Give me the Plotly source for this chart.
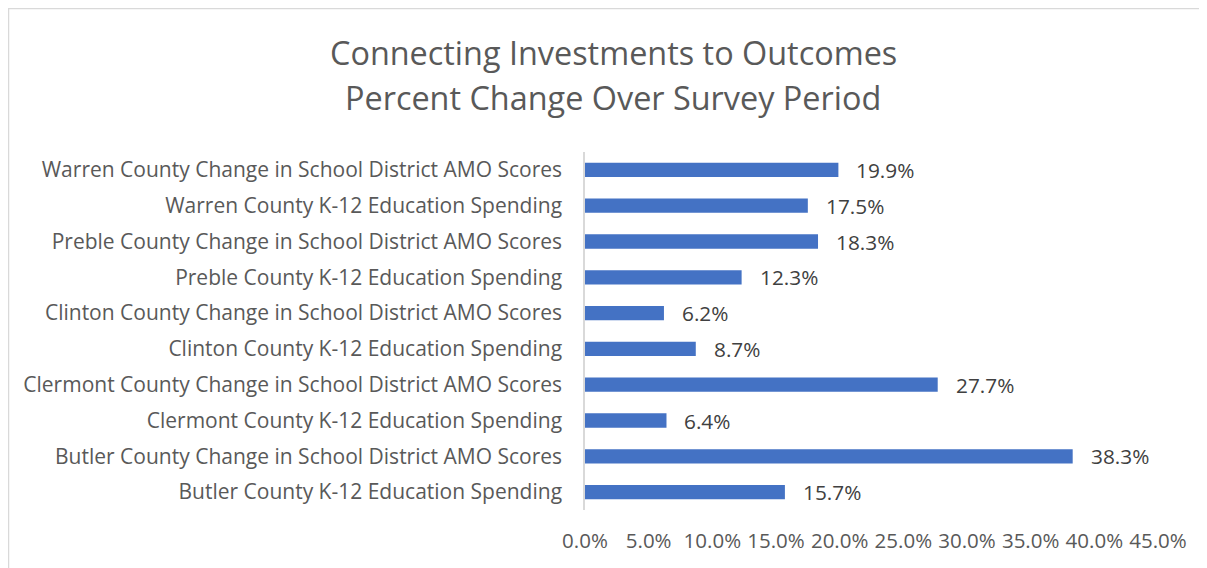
import plotly.graph_objects as go

categories = [
    "Butler County K-12 Education Spending",
    "Butler County Change in School District AMO Scores",
    "Clermont County K-12 Education Spending",
    "Clermont County Change in School District AMO Scores",
    "Clinton County K-12 Education Spending",
    "Clinton County Change in School District AMO Scores",
    "Preble County K-12 Education Spending",
    "Preble County Change in School District AMO Scores",
    "Warren County K-12 Education Spending",
    "Warren County Change in School District AMO Scores",
]
values = [15.7, 38.3, 6.4, 27.7, 8.7, 6.2, 12.3, 18.3, 17.5, 19.9]
tick_vals = [0, 5, 10, 15, 20, 25, 30, 35, 40, 45]
tick_text = [f"{v:.1f}%" for v in tick_vals]
title_lines = ["Connecting Investments to Outcomes", "Percent Change Over Survey Period"]

FONT = "Open Sans"
W, H = 1207, 568
L, R, T, B = 577, 57, 144, 66
pw = W - L - R
ph = H - T - B

def px_x(x):
    return (x - L) / pw

def px_y(y):
    return (H - B - y) / ph

fig = go.Figure()
fig.add_trace(go.Bar(
    x=values, y=categories, orientation="h",
    marker=dict(color="#4472C4", line=dict(width=0)),
    width=0.4,
    hoverinfo="skip",
))
for c, v in zip(categories, values):
    fig.add_annotation(x=v, y=c, text=f"{v:.1f}%", showarrow=False,
                       xanchor="left", yanchor="middle", xshift=16,
                       font=dict(family=FONT, size=20.8, color="#404040"))

for line, yc in zip(title_lines, [44, 89]):
    fig.add_annotation(xref="paper", yref="paper", x=px_x(605), y=px_y(yc),
                       text=line, showarrow=False, xanchor="center", yanchor="middle",
                       font=dict(family=FONT, size=32.4, color="#595959"))

fig.add_shape(type="rect", xref="paper", yref="paper",
              x0=px_x(0.5), x1=px_x(1250),
              y0=px_y(600), y1=px_y(0.5),
              line=dict(color="#D9D9D9", width=1.5), fillcolor="rgba(0,0,0,0)", layer="below")

fig.update_layout(
    width=W, height=H,
    margin=dict(l=L, r=R, t=T, b=B),
    paper_bgcolor="white", plot_bgcolor="white",
    showlegend=False,
    xaxis=dict(range=[0, 45], tickvals=tick_vals, ticktext=tick_text,
               showgrid=False, zeroline=False, showline=False,
               ticks="outside", ticklen=12, tickcolor="rgba(0,0,0,0)",
               tickfont=dict(family=FONT, size=20.5, color="#595959")),
    yaxis=dict(showgrid=False, zeroline=False, showline=True,
               linecolor="#D9D9D9", linewidth=1.5,
               ticks="outside", ticklen=17, tickcolor="rgba(0,0,0,0)",
               tickfont=dict(family=FONT, size=21, color="#595959"),
               range=[-0.5, 9.5]),
)
fig.write_html("out.html")
